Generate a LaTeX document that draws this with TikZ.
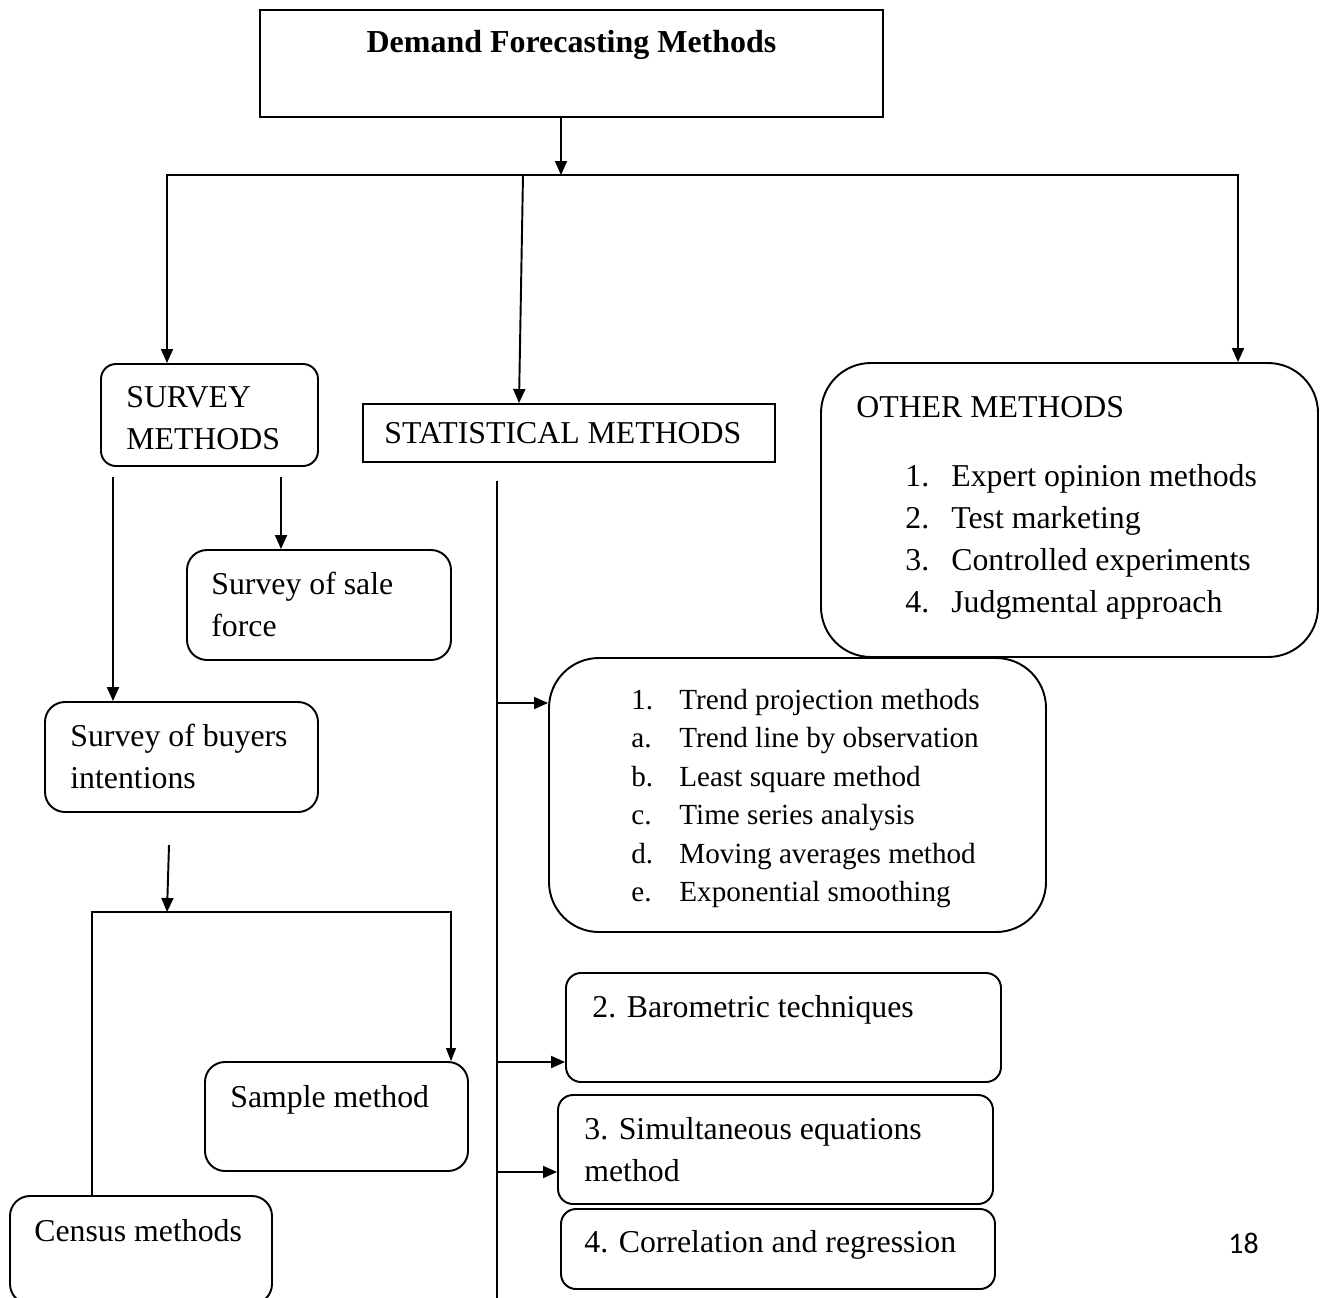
\documentclass[tikz,border=0pt]{standalone}
\usepackage{fontspec}
\setmainfont{Liberation Serif}
\newfontfamily\pagenumfont{Carlito}
\usepackage{tikz}
\usetikzlibrary{calc}
\usetikzlibrary{arrows.meta}

\begin{document}
\begin{tikzpicture}[x=0.02cm, y=-0.02cm,
    box/.style={draw, line width=1.1pt, inner sep=0pt},
    txt/.style={anchor=base west, inner sep=0pt, font=\fontsize{18.1}{21}\selectfont},
    listtxt/.style={txt, font=\fontsize{16.6}{20}\selectfont},
    arr/.style={line width=1.1pt, -{Triangle[length=0.28cm, width=0.24cm]}},
    thinarr/.style={line width=0.7pt, -{Triangle[length=0.26cm, width=0.2cm]}}]
    \useasboundingbox (0,0) rectangle (1322,1298);
    % boxes
    \foreach \name/\x/\y/\w/\h/\r in {title/571.5/63.5/623/107/0, survey/209.5/415/217/102/15,
        stat/569/433/412/58/0, other/1069.5/510/497/294/50, sale/319/605/264/110/20,
        buyers/181.5/757/273/110/20, sample/336.5/1116.5/263/109/20, census/141/1250/262/108/20,
        trend/797.5/795/497/274/50, baro/783.5/1027.5/435/109/15, simul/775.5/1149.5/435/109/15,
        correl/778/1249/434/80/15} {
        \node [box, rounded corners=\r*0.02cm, minimum width=\w*0.02cm, minimum height=\h*0.02cm] (\name) at (\x,\y) {};
    }
    % texts
    \node [txt, anchor=base, font=\fontsize{18.2}{22}\selectfont\bfseries] (titletext) at (571.5,52) {Demand Forecasting Methods};
    \foreach \x/\y/\t [count=\i] in {126/407/SURVEY, 126/449/METHODS, 384/443/STATISTICAL METHODS,
        856/417/OTHER METHODS, 211/594/Survey of sale, 211/636/force, 70/746/Survey of buyers,
        70/788/intentions, 230/1107/Sample method, 34/1241/Census methods, 592/1017/2. Barometric techniques,
        584/1139/3. Simultaneous equations, 584/1181/method, 584/1252/4. Correlation and regression} {
        \node [txt] (label\i) at (\x,\y) {\t};
    }
    \foreach \n/\t [count=\i] in {1./Expert opinion methods, 2./Test marketing, 3./Controlled experiments, 4./Judgmental approach} {
        \node [txt] (othernum\i) at (905,{486+42.3*(\i-1)}) {\n};
        \node [txt] (otheritem\i) at (951,{486+42.3*(\i-1)}) {\t};
    }
    \foreach \n/\t [count=\i] in {1./Trend projection methods, a./Trend line by observation, b./Least square method,
        c./Time series analysis, d./Moving averages method, e./Exponential smoothing} {
        \node [listtxt] (trendnum\i) at (631,{709+38.5*(\i-1)}) {\n};
        \node [listtxt] (trenditem\i) at (679,{709+38.5*(\i-1)}) {\t};
    }
    \node [anchor=base west, inner sep=0pt, font=\pagenumfont\fontsize{17}{20}\selectfont] (pagenum) at (1228,1253) {18};
    % connectors
    \coordinate (split) at (561,175);
    \coordinate (left) at (167,175);
    \coordinate (mid) at (523,175);
    \coordinate (right) at (1238,175);
    \draw [arr] (title.south -| split) -- (split);
    \draw [arr, {Triangle[length=0.28cm, width=0.24cm]}-{Triangle[length=0.28cm, width=0.24cm]}] (left |- survey.north) -- (left) -- (right) -- (right |- other.north);
    \draw [arr] (mid) -- ($(stat.north)+(-50,0)$);
    \coordinate (s1) at (113,477);
    \coordinate (s2) at (281,477);
    \draw [arr] (s1) -- (s1 |- buyers.north);
    \draw [arr] (s2) -- (s2 |- sale.north);
    \coordinate (b1) at (169,845);
    \coordinate (b2) at (167,912);
    \coordinate (cl) at (92,912);
    \coordinate (cr) at (451,912);
    \draw [arr] (b1) -- (b2);
    \draw [thinarr] (census.north -| cl) -- (cl) -- (cr) -- (cr |- sample.north);
    \coordinate (v1) at (497,481);
    \coordinate (v2) at (497,1300);
    \draw [line width=0.8pt] (v1) -- (v2);
    \foreach \y/\b in {703/trend, 1062/baro, 1172/simul} {
        \coordinate (h\b) at (497,\y);
        \draw [arr] (h\b) -- (h\b -| \b.west);
    }
\end{tikzpicture}
\end{document}
